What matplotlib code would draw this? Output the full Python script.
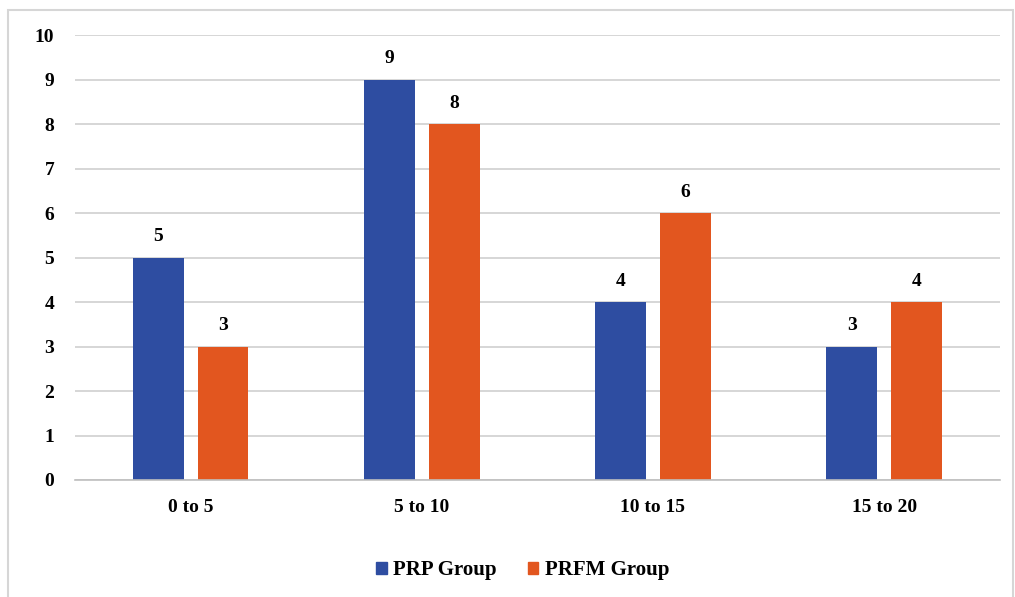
import matplotlib
matplotlib.use("Agg")
import matplotlib.pyplot as plt
import matplotlib.patches as mpatches
import numpy as np

categories = ["0 to 5", "5 to 10", "10 to 15", "15 to 20"]
prp_values = [5, 9, 4, 3]
prfm_values = [3, 8, 6, 4]
series_names = ["PRP Group", "PRFM Group"]

BLUE = "#2E4DA1"
ORANGE = "#E2561F"

plt.rcParams["font.family"] = ["Liberation Serif", "DejaVu Serif"]
plt.rcParams["font.weight"] = "bold"

fig = plt.figure(figsize=(10.15, 5.97), dpi=100)
ax = fig.add_axes([0.0739, 0.196, 0.911, 0.745])

# chart border
fig.patches.append(mpatches.Rectangle((0.008, -0.01), 0.99, 0.993, transform=fig.transFigure,
                                      fill=False, edgecolor="#D6D6D6", linewidth=1.5))

x = np.arange(len(categories))
w = 0.22
off = 0.14
b1 = ax.bar(x - off, prp_values, w, color=BLUE, label=series_names[0])
b2 = ax.bar(x + off, prfm_values, w, color=ORANGE, label=series_names[1])

for bars in (b1, b2):
    for rect in bars:
        h = rect.get_height()
        ax.annotate(f"{h:g}", (rect.get_x() + rect.get_width() / 2, h),
                    textcoords="offset points", xytext=(0, 9), ha="center", va="bottom",
                    fontsize=14, fontweight="bold")

ax.set_xlim(-0.5, 3.5)
ax.set_ylim(0, 10)
ax.set_yticks(range(0, 11))
ax.set_xticks(x)
ax.set_xticklabels(categories)
ax.tick_params(axis="both", length=0, labelsize=14)
ax.tick_params(axis="x", pad=14)
ax.tick_params(axis="y", pad=15)
ax.grid(axis="y", color="#D0D0D0", linewidth=1.2)
ax.set_axisbelow(True)
for s in ("top", "right", "left"):
    ax.spines[s].set_visible(False)
ax.spines["bottom"].set_color("#BFBFBF")
ax.spines["bottom"].set_linewidth(1.2)

handles = [mpatches.Patch(color=BLUE, label=series_names[0]),
           mpatches.Patch(color=ORANGE, label=series_names[1])]
fig.legend(handles=handles, loc="center", bbox_to_anchor=(0.515, 0.045), ncol=2,
           frameon=False, fontsize=15, handlelength=0.5, handleheight=0.5,
           handletextpad=0.3, columnspacing=1.5)

fig.savefig("out.png", dpi=100)
